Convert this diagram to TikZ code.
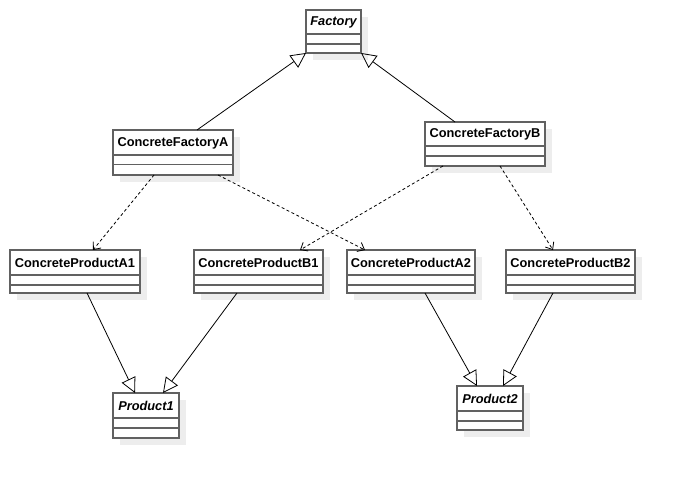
\documentclass[tikz,border=0pt]{standalone}
\usepackage{fontspec}
\setmainfont{Liberation Sans}
\usetikzlibrary{arrows.meta,shadows}
\tikzset{
  classbox/.style={draw=black!62, line width=1.1pt, fill=white, outer sep=0pt, inner sep=0pt,
    drop shadow={shadow xshift=7pt, shadow yshift=-7pt, fill=black!7, opacity=1}},
  classline/.style={draw=black!62, line width=1.1pt},
  classname/.style={font=\fontsize{12.8}{14}\selectfont\bfseries, inner sep=0pt},
  abstractname/.style={font=\fontsize{12.8}{14}\selectfont\bfseries\itshape, inner sep=0pt},
  inherit/.style={draw=black, line width=0.8pt, -{Triangle[open, length=15pt, width=15pt, line width=0.8pt]}},
  depend/.style={draw=black, line width=0.8pt, dash pattern=on 3pt off 2.5pt, -{Straight Barb[length=6pt, width=10pt, line width=0.8pt]}},
}
\newcommand\umlbox[9]{%
  \node[classbox, minimum width={#4-#2}, minimum height={#5-#3}] (#1) at ({(#2+#4)/2},{(#3+#5)/2}) {};
  \draw[classline] (#1.west |- 0,#6) -- (#1.east |- 0,#6);
  \draw[classline] (#1.west |- 0,#7) -- (#1.east |- 0,#7);
  \node[#9] (#1-t) at ({(#2+#4)/2},{(#3+#6)/2+0.5}) {#8};
}
\begin{document}
\begin{tikzpicture}[x=1pt,y=-1pt]
\useasboundingbox[fill=white] (0,0) rectangle (675,478);
\umlbox{factory}{306}{10}{361}{53}{34}{44}{Factory}{abstractname}
\umlbox{cfa}{113}{130}{233}{175}{155}{164.5}{ConcreteFactoryA}{classname}
\umlbox{cfb}{425}{122}{545}{166}{146}{156}{ConcreteFactoryB}{classname}
\umlbox{cpa1}{10}{250}{140}{293}{275}{285}{ConcreteProductA1}{classname}
\umlbox{cpb1}{194}{250}{323}{293}{275}{285}{ConcreteProductB1}{classname}
\umlbox{cpa2}{347}{250}{475}{293}{275}{285}{ConcreteProductA2}{classname}
\umlbox{cpb2}{506}{250}{635}{293}{275}{285}{ConcreteProductB2}{classname}
\umlbox{prod1}{113}{393}{179}{438}{418}{428}{Product1}{abstractname}
\umlbox{prod2}{457}{386}{523}{430}{411}{421}{Product2}{abstractname}
% inheritance to Factory
\draw[inherit] ([xshift=84pt]cfa.north west) -- (factory.south west);
\draw[inherit] ([xshift=30pt]cfb.north west) -- (factory.south east);
% dependencies
\draw[depend] ([xshift=41pt]cfa.south west) -- ([xshift=83pt]cpa1.north west);
\draw[depend] ([xshift=105pt]cfa.south west) -- ([xshift=18pt]cpa2.north west);
\draw[depend] ([xshift=18pt]cfb.south west) -- ([xshift=106pt]cpb1.north west);
\draw[depend] ([xshift=75pt]cfb.south west) -- ([xshift=47pt]cpb2.north west);
% realizations
\draw[inherit] ([xshift=77pt]cpa1.south west) -- ([xshift=22pt]prod1.north west);
\draw[inherit] ([xshift=43pt]cpb1.south west) -- ([xshift=50pt]prod1.north west);
\draw[inherit] ([xshift=78pt]cpa2.south west) -- ([xshift=20pt]prod2.north west);
\draw[inherit] ([xshift=47pt]cpb2.south west) -- ([xshift=46pt]prod2.north west);
\end{tikzpicture}
\end{document}
